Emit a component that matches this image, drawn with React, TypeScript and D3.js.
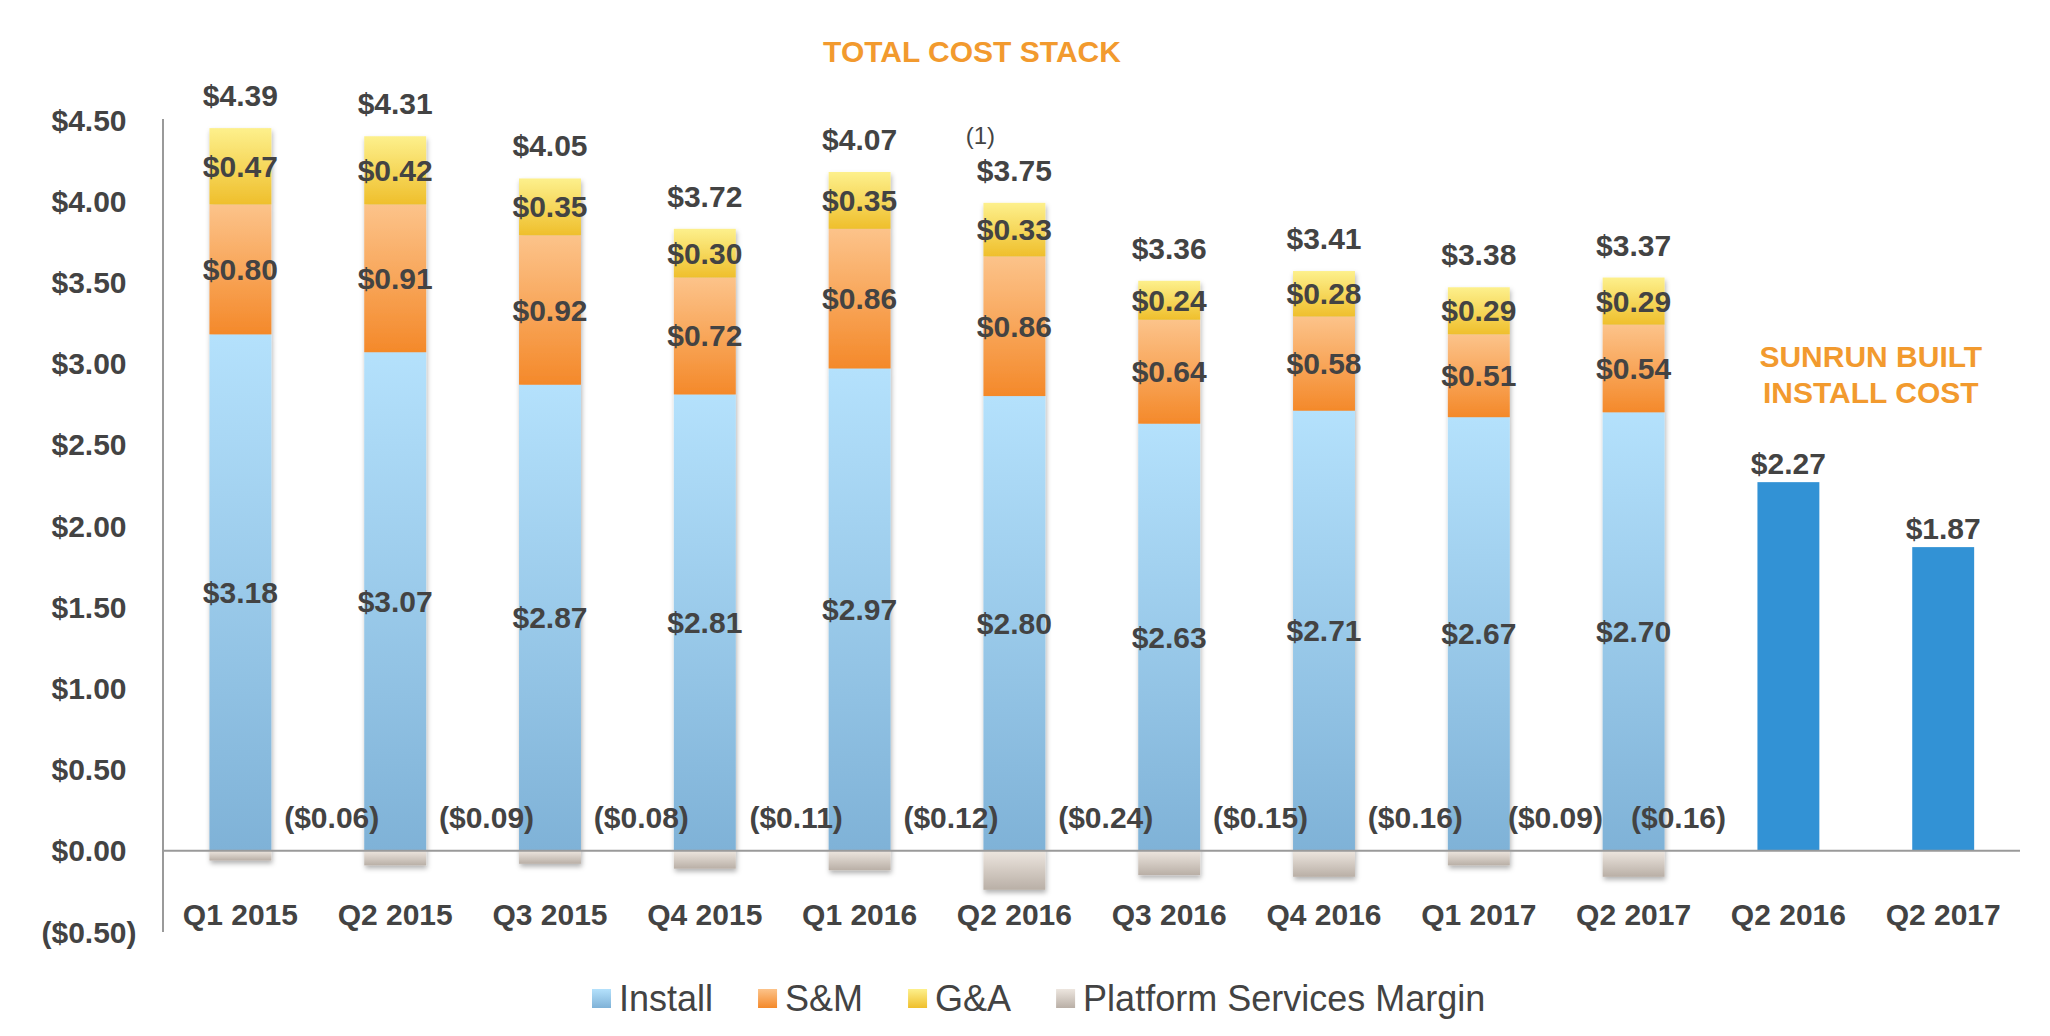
import { useEffect, useRef } from 'react';
import * as d3 from 'd3';

// stacked "total cost stack" quarters
const quarters = ['Q1 2015', 'Q2 2015', 'Q3 2015', 'Q4 2015', 'Q1 2016', 'Q2 2016', 'Q3 2016', 'Q4 2016', 'Q1 2017', 'Q2 2017'];
const install = [3.18, 3.07, 2.87, 2.81, 2.97, 2.8, 2.63, 2.71, 2.67, 2.7];
const salesMarketing = [0.8, 0.91, 0.92, 0.72, 0.86, 0.86, 0.64, 0.58, 0.51, 0.54];
const generalAdmin = [0.47, 0.42, 0.35, 0.3, 0.35, 0.33, 0.24, 0.28, 0.29, 0.29];
const platformMargin = [-0.06, -0.09, -0.08, -0.11, -0.12, -0.24, -0.15, -0.16, -0.09, -0.16];
const totals = [4.39, 4.31, 4.05, 3.72, 4.07, 3.75, 3.36, 3.41, 3.38, 3.37];

// sunrun built install cost
const builtQuarters = ['Q2 2016', 'Q2 2017'];
const builtCost = [2.27, 1.87];

const legendItems = [
  { key: 'install', label: 'Install' },
  { key: 'sm', label: 'S&M' },
  { key: 'ga', label: 'G&A' },
  { key: 'margin', label: 'Platform Services Margin' },
];

const gradients: Record<string, [string, string]> = {
  install: ['#b4e1fc', '#7fb2d7'],
  sm: ['#fcc38a', '#f4892a'],
  ga: ['#fdf08c', '#efbf2c'],
  margin: ['#ede6df', '#b9afa6'],
};

const FONT = '"Liberation Sans", Arial, Helvetica, sans-serif';
const TEXT = '#434343';
const ORANGE = '#f29a2e';

const money = (v: number) => (v < 0 ? `($${(-v).toFixed(2)})` : `$${v.toFixed(2)}`);

export default function App() {
  const ref = useRef<SVGSVGElement | null>(null);

  useEffect(() => {
    if (!ref.current) return;
    const width = 2050;
    const height = 1036;
    const svg = d3.select(ref.current);
    svg.selectAll('*').remove();

    const keys = [...quarters.map((_, i) => `s${i}`), ...builtQuarters.map((_, i) => `b${i}`)];
    const labels = [...quarters, ...builtQuarters];

    const x = d3.scaleBand<string>().domain(keys).range([163, 2020.6]).paddingInner(0.6).paddingOuter(0.3);
    const y = d3.scaleLinear().domain([-0.5, 4.5]).range([932, 120]);
    const step = x.step();
    const bw = x.bandwidth();

    const defs = svg.append('defs');
    Object.entries(gradients).forEach(([k, [c0, c1]]) => {
      const g = defs.append('linearGradient').attr('id', `grad-${k}`).attr('x1', 0).attr('y1', 0).attr('x2', 0).attr('y2', 1);
      g.append('stop').attr('offset', '0%').attr('stop-color', c0);
      g.append('stop').attr('offset', '100%').attr('stop-color', c1);
    });
    defs
      .append('filter')
      .attr('id', 'shadow')
      .attr('x', '-30%')
      .attr('y', '-10%')
      .attr('width', '160%')
      .attr('height', '120%')
      .append('feDropShadow')
      .attr('dx', 1)
      .attr('dy', 3)
      .attr('stdDeviation', 2.5)
      .attr('flood-color', '#000')
      .attr('flood-opacity', 0.3);

    // axis lines
    svg.append('line').attr('x1', 163).attr('x2', 163).attr('y1', y(4.5) - 1).attr('y2', y(-0.5)).attr('stroke', '#9a9a9a').attr('stroke-width', 2);

    svg
      .append('g')
      .selectAll('text')
      .data(y.ticks(10))
      .join('text')
      .attr('x', 89)
      .attr('y', (d) => y(d))
      .attr('dy', '0.35em')
      .attr('text-anchor', 'middle')
      .attr('font-family', FONT)
      .attr('font-weight', 'bold')
      .attr('font-size', 30)
      .attr('fill', TEXT)
      .text((d) => money(d));

    // stacked bars
    const rows = quarters.map((q, i) => ({ key: `s${i}`, install: install[i], sm: salesMarketing[i], ga: generalAdmin[i] }));
    const series = d3.stack<(typeof rows)[number]>().keys(['install', 'sm', 'ga'])(rows);

    const barGroups = svg
      .append('g')
      .selectAll('g')
      .data(rows)
      .join('g')
      .attr('filter', 'url(#shadow)');

    barGroups.each(function (row, i) {
      const g = d3.select(this);
      series.forEach((s) => {
        const seg = s[i];
        g.append('rect')
          .attr('x', x(row.key)!)
          .attr('width', bw)
          .attr('y', y(seg[1]))
          .attr('height', y(seg[0]) - y(seg[1]))
          .attr('fill', `url(#grad-${s.key})`);
      });
      g.append('rect')
        .attr('x', x(row.key)!)
        .attr('width', bw)
        .attr('y', y(0))
        .attr('height', y(platformMargin[i]) - y(0))
        .attr('fill', 'url(#grad-margin)');
    });

    const labelStyle = (sel: d3.Selection<SVGTextElement, any, any, any>) =>
      sel.attr('font-family', FONT).attr('font-weight', 'bold').attr('font-size', 30).attr('fill', TEXT).attr('text-anchor', 'middle');

    // segment labels
    const segLabels = svg.append('g');
    series.forEach((s) => {
      segLabels
        .append('g')
        .selectAll('text')
        .data(s)
        .join('text')
        .attr('x', (d) => x(d.data.key)! + bw / 2)
        .attr('y', (d) => y((d[0] + d[1]) / 2))
        .attr('dy', '0.35em')
        .call(labelStyle)
        .text((d) => money(d[1] - d[0]));
    });

    // totals above stacks
    svg
      .append('g')
      .selectAll('text')
      .data(rows)
      .join('text')
      .attr('x', (d) => x(d.key)! + bw / 2)
      .attr('y', (d) => y(d.install + d.sm + d.ga + 0.2))
      .attr('dy', '0.35em')
      .call(labelStyle)
      .text((_, i) => money(totals[i]));

    // platform margin labels, right of each bar; squeezed from the right so they don't collide
    const lastStacked = x(`s${quarters.length - 1}`)! + bw / 2;
    const marginText = svg
      .append('g')
      .selectAll('text')
      .data(rows)
      .join('text')
      .attr('y', y(0) - 33)
      .attr('dy', '0.35em')
      .call(labelStyle)
      .text((_, i) => money(platformMargin[i]));
    const nodes = marginText.nodes() as SVGTextElement[];
    const widths = nodes.map((n) => n.getComputedTextLength());
    const cx = rows.map((d) => x(d.key)! + bw / 2 + step * 0.59);
    cx[cx.length - 1] = Math.min(cx[cx.length - 1], lastStacked + step * 0.29);
    for (let i = cx.length - 2; i >= 0; i--) {
      const limit = cx[i + 1] - widths[i + 1] / 2 - 28 - widths[i] / 2;
      cx[i] = Math.min(cx[i], limit);
    }
    marginText.attr('x', (_, i) => cx[i]);

    // footnote marker on Q2 2016
    const fn = x('s5')! + bw / 2 - 34;
    svg
      .append('text')
      .attr('x', fn)
      .attr('y', 144)
      .attr('text-anchor', 'middle')
      .attr('font-family', FONT)
      .attr('font-size', 24)
      .attr('fill', TEXT)
      .text('(1)');

    // sunrun built bars
    const built = builtQuarters.map((q, i) => ({ key: `b${i}`, v: builtCost[i] }));
    svg
      .append('g')
      .selectAll('rect')
      .data(built)
      .join('rect')
      .attr('x', (d) => x(d.key)!)
      .attr('width', bw)
      .attr('y', (d) => y(d.v))
      .attr('height', (d) => y(0) - y(d.v))
      .attr('fill', '#3292d5');
    svg
      .append('g')
      .selectAll('text')
      .data(built)
      .join('text')
      .attr('x', (d) => x(d.key)! + bw / 2)
      .attr('y', (d) => y(d.v) - 8)
      .call(labelStyle)
      .text((d) => money(d.v));

    // zero line
    svg.append('line').attr('x1', 163).attr('x2', 2020).attr('y1', y(0)).attr('y2', y(0)).attr('stroke', '#9a9a9a').attr('stroke-width', 2);

    // x labels
    svg
      .append('g')
      .selectAll('text')
      .data(keys)
      .join('text')
      .attr('x', (d) => x(d)! + bw / 2)
      .attr('y', 925)
      .call(labelStyle)
      .text((_, i) => labels[i]);

    // titles
    svg
      .append('text')
      .attr('x', 972)
      .attr('y', 62)
      .attr('text-anchor', 'middle')
      .attr('font-family', FONT)
      .attr('font-weight', 'bold')
      .attr('font-size', 30)
      .attr('fill', ORANGE)
      .text('TOTAL COST STACK');
    const sub = svg
      .append('text')
      .attr('text-anchor', 'middle')
      .attr('font-family', FONT)
      .attr('font-weight', 'bold')
      .attr('font-size', 30)
      .attr('fill', ORANGE);
    const subX = (x('b0')! + x('b1')! + bw) / 2 + 5;
    sub.append('tspan').attr('x', subX).attr('y', 367).text('SUNRUN BUILT');
    sub.append('tspan').attr('x', subX).attr('y', 403).text('INSTALL COST');

    // legend
    const legend = svg.append('g');
    let lx = 592;
    legendItems.forEach((item) => {
      legend.append('rect').attr('x', lx).attr('y', 989).attr('width', 19).attr('height', 19).attr('fill', `url(#grad-${item.key})`);
      const t = legend
        .append('text')
        .attr('x', lx + 27)
        .attr('y', 1011)
        .attr('font-family', FONT)
        .attr('font-size', 36)
        .attr('fill', TEXT)
        .text(item.label);
      lx += 27 + (t.node() as SVGTextElement).getComputedTextLength() + 45;
    });

    svg.attr('width', width).attr('height', height);
  }, []);

  return <svg ref={ref} width={2050} height={1036} style={{ position: 'absolute', left: 0, top: 0, background: '#fff' }} />;
}
